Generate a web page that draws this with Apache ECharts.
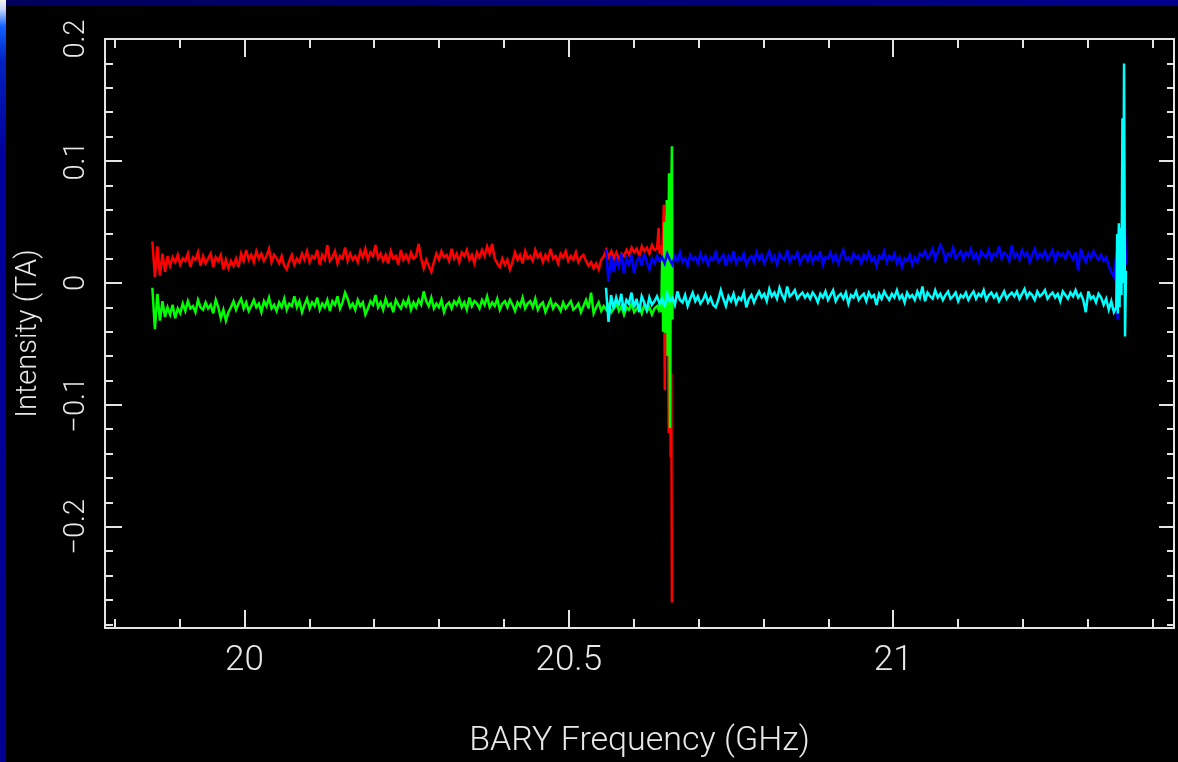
<!DOCTYPE html>
<html>
<head>
<meta charset="utf-8">
<title>BARY Frequency spectrum</title>
<script src="https://cdn.jsdelivr.net/npm/echarts@6/dist/echarts.min.js"></script>
<style>
  html, body { margin: 0; padding: 0; background: #000; }
  #chart { width: 1178px; height: 762px; }
</style>
</head>
<body>
<div id="chart"></div>
<script>
// Axis ticks and labels
const xMajorTicks = [20, 20.5, 21];
const xTickLabels = ['20', '20.5', '21'];
const xMinorTicks = [19.8, 19.9, 20.1, 20.2, 20.3, 20.4, 20.6, 20.7, 20.8, 20.9, 21.1, 21.2, 21.3, 21.4];
const yMajorTicks = [-0.2, -0.1, 0, 0.1, 0.2];
const yTickLabels = ['\u22120.2', '\u22120.1', '0', '0.1', '0.2'];
const yMinorTicks = [-0.28, -0.26, -0.24, -0.22, -0.18, -0.16, -0.14, -0.12, -0.08, -0.06, -0.04, -0.02,
                     0.02, 0.04, 0.06, 0.08, 0.12, 0.14, 0.16, 0.18];

// Spectral windows (GHz): evenly spaced channels between start and end
const lowBandStart = 19.858, lowBandEnd = 20.636;
const highBandStart = 20.5573, highBandEnd = 21.3403;

// Channel intensities, in units of 0.001 TA
const redBody = [
  34, 5, 30, 6, 24, 9, 22, 14, 21, 17, 23, 15, 20, 18, 24, 13, 21, 19, 25, 14,
  22, 16, 20, 24, 13, 21, 18, 23, 11, 19, 12, 18, 14, 20, 13, 24, 18, 27, 19, 23,
  17, 26, 20, 24, 18, 22, 28, 17, 23, 20, 16, 22, 14, 11, 18, 23, 15, 20, 17, 24,
  19, 26, 17, 22, 20, 27, 15, 23, 19, 31, 18, 21, 26, 16, 22, 20, 29, 18, 24, 19,
  22, 17, 26, 21, 28, 19, 25, 22, 31, 20, 24, 18, 23, 16, 26, 20, 22, 15, 27, 19,
  23, 18, 25, 20, 22, 32, 20, 12, 19, 14, 9, 17, 24, 19, 26, 21, 23, 18, 28, 20,
  24, 17, 25, 22, 27, 19, 23, 16, 25, 21, 27, 22, 30, 24, 32, 20, 16, 13, 20, 15,
  19, 11, 17, 25, 19, 23, 16, 26, 20, 22, 18, 27, 21, 24, 17, 23, 19, 28, 20, 22,
  16, 24, 21, 26, 18, 22, 19, 25, 17, 21, 23, 18, 14, 17, 12, 16, 11, 19, 22, 27,
  21, 26, 20, 25, 19, 24, 22, 27, 23, 29, 25, 28, 22, 30, 26, 29, 24, 31, 27, 28
];
const greenBody = [
  -4, -38, -9, -31, -15, -28, -20, -26, -18, -29, -21, -25, -17, -23, -15, -21, -19, -24, -14, -20,
  -22, -16, -21, -18, -25, -14, -20, -29, -22, -31, -24, -20, -15, -22, -17, -13, -21, -16, -23, -19,
  -14, -20, -17, -24, -15, -19, -12, -21, -18, -23, -16, -20, -13, -22, -17, -19, -11, -20, -15, -24,
  -18, -13, -21, -16, -19, -12, -22, -17, -20, -14, -23, -15, -18, -11, -21, -16, -8, -13, -20, -17,
  -22, -14, -19, -16, -26, -21, -15, -18, -10, -20, -16, -22, -13, -19, -17, -24, -14, -18, -21, -15,
  -19, -13, -22, -16, -20, -14, -18, -7, -15, -19, -12, -21, -17, -20, -14, -24, -18, -16, -21, -15,
  -18, -13, -20, -16, -22, -12, -19, -15, -17, -21, -14, -18, -11, -20, -16, -19, -13, -22, -17, -15,
  -20, -14, -18, -23, -16, -19, -12, -21, -17, -15, -20, -13, -22, -18, -16, -24, -19, -14, -21, -17,
  -19, -23, -16, -21, -18, -15, -22, -20, -17, -24, -19, -14, -21, -8, -25, -20, -16, -23, -19, -22,
  -18, -24, -21, -17, -23, -19, -26, -20, -22, -17, -24, -21, -19, -25, -18, -23, -20, -26, -21, -19
];
const blueBody = [
  27, 1, 22, 9, 19, 13, 24, 8, 20, 15, 23, 8, 18, 21, 14, 24, 17, 11, 20, 16,
  22, 18, 21, 16, 24, 19, 15, 22, 18, 25, 17, 20, 14, 23, 19, 21, 16, 24, 18, 22,
  15, 21, 19, 25, 17, 20, 23, 14, 22, 18, 26, 16, 21, 19, 24, 15, 20, 22, 17, 25,
  19, 23, 16, 21, 26, 18, 22, 15, 24, 20, 19, 27, 17, 22, 20, 25, 16, 21, 23, 18,
  24, 17, 22, 19, 26, 15, 21, 20, 25, 18, 23, 16, 22, 27, 19, 21, 17, 24, 20, 22,
  16, 23, 19, 25, 18, 21, 14, 22, 20, 26, 17, 22, 19, 24, 16, 21, 13, 20, 18, 23,
  15, 21, 17, 24, 22, 26, 20, 23, 28, 19, 25, 31, 27, 18, 24, 22, 29, 20, 23, 26,
  19, 25, 22, 28, 20, 24, 18, 26, 23, 21, 27, 19, 24, 22, 30, 20, 25, 23, 18, 31,
  21, 24, 19, 27, 22, 25, 17, 23, 28, 20, 24, 21, 26, 19, 23, 27, 18, 25, 22, 24,
  20, 26, 23, 19, 25, 10, 28, 22, 17, 24, 20, 26, 22, 19, 23, 18, 21, 14, 9, 5
];
const cyanBody = [
  -4, -32, -10, -21, -12, -19, -9, -23, -14, -17, -8, -20, -13, -24, -11, -16, -22, -12, -18, -15,
  -11, -17, -13, -20, -9, -15, -12, -18, -7, -14, -16, -10, -19, -13, -8, -15, -11, -17, -14, -9,
  -16, -12, -18, -20, -14, -6, -13, -19, -11, -15, -9, -17, -12, -14, -8, -20, -13, -10, -16, -11,
  -7, -12, -9, -15, -5, -11, -8, -13, -4, -10, -14, -3, -11, -9, -6, -13, -10, -8, -12, -9,
  -13, -8, -11, -16, -9, -12, -7, -14, -10, -6, -15, -11, -9, -13, -8, -17, -10, -12, -7, -14,
  -11, -9, -15, -8, -12, -10, -18, -9, -13, -7, -11, -14, -9, -12, -6, -13, -10, -16, -8, -12,
  -10, -14, -7, -12, -3, -15, -8, -11, -13, -6, -12, -9, -14, -10, -7, -13, -11, -8, -15, -10,
  -12, -8, -14, -10, -7, -13, -9, -11, -6, -14, -10, -8, -12, -9, -15, -11, -7, -13, -10, -8,
  -11, -7, -13, -9, -5, -12, -8, -10, -14, -7, -11, -9, -6, -13, -10, -8, -12, -9, -15, -7,
  -10, -13, -8, -11, -6, -12, -9, -14, -24, -7, -13, -11, -16, -9, -12, -18, -13, -22, -15, -24
];

// Edge channels (GHz, 0.001 TA) where the band edges ring
const redTailFreq = [20.6385, 20.6400, 20.6420, 20.6440, 20.6465, 20.6480, 20.6495, 20.6510, 20.6525, 20.6540, 20.6555, 20.6570, 20.6580, 20.6590];
const redTailVal  = [45, 24, 31, 22, 64, -88, 55, -60, 25, -123, 15, -143, -74, -262];
const greenTailFreq = [20.6385, 20.6405, 20.6425, 20.6440, 20.6455, 20.6475, 20.6490, 20.6510, 20.6525, 20.6545, 20.6560, 20.6575, 20.6590, 20.6598];
const greenTailVal  = [-22, -17, -24, 21, -40, 50, -41, 68, -60, 90, -119, 60, 112, -30];
const blueTailFreq = [21.3430, 21.3445, 21.3460, 21.3475, 21.3490, 21.3510, 21.3530, 21.3560, 21.3575, 21.3590];
const blueTailVal  = [5, 25, -30, 45, 0, 30, 20, 87, 40, 15];
const cyanTailFreq = [21.3440, 21.3455, 21.3465, 21.3480, 21.3490, 21.3505, 21.3520, 21.3535, 21.3545, 21.3560, 21.3575, 21.3590];
const cyanTailVal  = [-20, 40, -25, 49, -20, 45, -10, 135, 0, 180, -44, 10];

function channels(body, f0, f1, tailFreq, tailVal) {
  const pts = body.map((v, i) => [f0 + (f1 - f0) * i / (body.length - 1), v / 1000]);
  tailFreq.forEach((f, i) => pts.push([f, tailVal[i] / 1000]));
  return pts;
}

const X_MIN = 19.785, X_MAX = 21.433;
const Y_MIN = -0.283, Y_MAX = 0.2;
const FRAME = '#e4e4e4';
const FONT = 'Roboto, "DejaVu Sans", sans-serif';

function xAx(position, ticks, len, labels) {
  return {
    type: 'value', position: position, min: X_MIN, max: X_MAX,
    axisLine: { show: true, onZero: false, lineStyle: { color: FRAME, width: 2 } },
    axisTick: { show: true, inside: true, length: len, customValues: ticks, lineStyle: { color: FRAME, width: 2 } },
    axisLabel: labels ? {
      show: true, customValues: ticks, margin: 16, color: '#e8e8e8',
      fontFamily: FONT, fontWeight: 300, fontSize: 35,
      formatter: v => xTickLabels[xMajorTicks.findIndex(t => Math.abs(t - v) < 1e-9)]
    } : { show: false },
    splitLine: { show: false }
  };
}
function yAx(position, ticks, len, labels) {
  return {
    type: 'value', position: position, min: Y_MIN, max: Y_MAX,
    axisLine: { show: true, onZero: false, lineStyle: { color: FRAME, width: 2 } },
    axisTick: { show: true, inside: true, length: len, customValues: ticks, lineStyle: { color: FRAME, width: 2 } },
    axisLabel: labels ? {
      show: true, customValues: ticks, margin: 14, rotate: 90, color: '#e8e8e8',
      fontFamily: FONT, fontWeight: 300, fontSize: 29,
      formatter: v => yTickLabels[yMajorTicks.findIndex(t => Math.abs(t - v) < 1e-9)]
    } : { show: false },
    splitLine: { show: false }
  };
}

const xMain = xAx('bottom', xMajorTicks, 18, true);
xMain.name = 'BARY Frequency (GHz)';
xMain.nameLocation = 'middle';
xMain.nameGap = 96;
xMain.nameTextStyle = { color: '#e8e8e8', fontFamily: FONT, fontWeight: 300, fontSize: 34 };
const yMain = yAx('left', yMajorTicks, 17, true);
yMain.name = 'Intensity (TA)';
yMain.nameLocation = 'middle';
yMain.nameGap = 62;
yMain.nameTextStyle = { color: '#e8e8e8', fontFamily: FONT, fontWeight: 300, fontSize: 29 };

function line(name, color, data) {
  return {
    name: name, type: 'line', xAxisIndex: 0, yAxisIndex: 0, data: data,
    showSymbol: false, symbol: 'none', silent: true,
    lineStyle: { color: color, width: 2.5, join: 'miter', miterLimit: 4 }
  };
}

const chart = echarts.init(document.getElementById('chart'), null, { renderer: 'canvas' });
chart.setOption({
  animation: false,
  backgroundColor: '#000000',
  grid: { left: 105, top: 39, right: 4, bottom: 134, containLabel: false, outerBoundsMode: 'none' },
  xAxis: [
    xMain,
    xAx('bottom', xMinorTicks, 9, false),
    xAx('top', xMajorTicks, 18, false),
    xAx('top', xMinorTicks, 9, false)
  ],
  yAxis: [
    yMain,
    yAx('left', yMinorTicks, 8, false),
    yAx('right', yMajorTicks, 15, false),
    yAx('right', yMinorTicks, 7, false)
  ],
  series: [
    line('red', '#ff0000', channels(redBody, lowBandStart, lowBandEnd, redTailFreq, redTailVal)),
    line('green', '#00ff00', channels(greenBody, lowBandStart, lowBandEnd, greenTailFreq, greenTailVal)),
    line('blue', '#0000ff', channels(blueBody, highBandStart, highBandEnd, blueTailFreq, blueTailVal)),
    line('cyan', '#00ffff', channels(cyanBody, highBandStart, highBandEnd, cyanTailFreq, cyanTailVal))
  ],
  graphic: [
    {
      type: 'rect', left: 0, top: 0, z: 100, silent: true,
      shape: { width: 1178, height: 6 },
      style: { fill: new echarts.graphic.LinearGradient(0, 0, 1, 0, [
        { offset: 0, color: '#00005c' }, { offset: 1, color: '#00008c' }
      ]) }
    },
    {
      type: 'rect', left: 0, top: 0, z: 101, silent: true,
      shape: { width: 6, height: 762 },
      style: { fill: new echarts.graphic.LinearGradient(0, 0, 0, 1, [
        { offset: 0, color: '#f4f4e8' },
        { offset: 0.012, color: '#c8d8ff' },
        { offset: 0.035, color: '#1060ff' },
        { offset: 0.08, color: '#0020c0' },
        { offset: 0.2, color: '#00009c' },
        { offset: 1, color: '#000090' }
      ]) }
    }
  ]
});
</script>
</body>
</html>
